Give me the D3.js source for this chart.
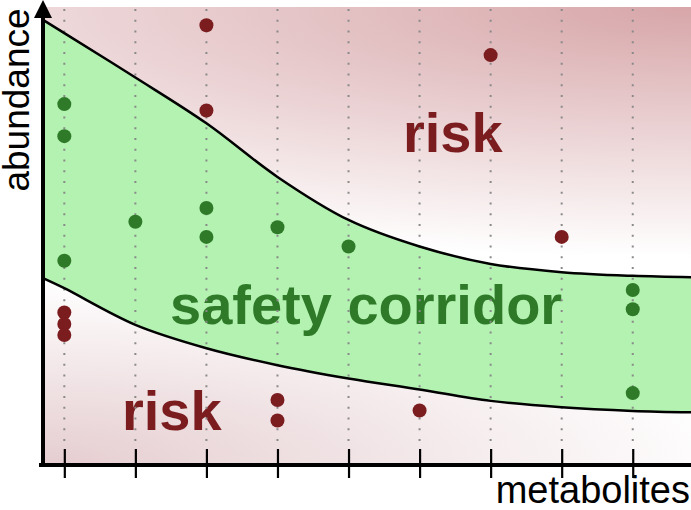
<!DOCTYPE html>
<html><head><meta charset="utf-8">
<script src="https://cdn.jsdelivr.net/npm/d3@7"></script>
<style>body{margin:0;background:#fff} svg{display:block}</style>
</head><body><svg id="c" width="691" height="510"></svg>
<script>
// ---- data ----
const metabolites = [1, 2, 3, 4, 5, 6, 7, 8, 9];
const tickLabels = ["", "", "", "", "", "", "", "", ""];
const corridorX     = [0.7, 1, 2, 3, 4, 5, 6, 7, 8, 9, 9.82];
const corridorUpper = [97.2, 94.3, 84.6, 74.6, 62.9, 53.5, 47.7, 43.9, 42.1, 41.3, 41.0];
const corridorLower = [40.8, 38.6, 30.6, 25.5, 21.8, 18.9, 16.5, 14.0, 12.6, 11.8, 11.5];
const safeX = [1, 1, 1, 2, 3, 3, 4, 5, 9, 9, 9];
const safeY = [78.8, 71.8, 44.6, 53.1, 56.1, 49.8, 51.9, 47.7, 38.2, 34.0, 15.7];
const riskX = [1, 1, 1, 3, 3, 4, 4, 6, 7, 8];
const riskY = [33.3, 30.8, 28.4, 96.0, 77.4, 14.2, 9.7, 11.9, 89.5, 49.8];

// ---- chart ----
const svg = d3.select("#c");
const x = d3.scaleLinear().domain([0.7, 9.82]).range([43, 691]);
const y = d3.scaleLinear().domain([0, 100]).range([465, 7]);

const defs = svg.append("defs");
const gTop = defs.append("radialGradient").attr("id", "gTop")
  .attr("gradientUnits", "userSpaceOnUse").attr("cx", 0).attr("cy", 0).attr("r", 1)
  .attr("gradientTransform", "translate(691,7) scale(1150,250)");
gTop.append("stop").attr("offset", 0).attr("stop-color", "#d7a6a9");
gTop.append("stop").attr("offset", 1).attr("stop-color", "#ffffff");
const gBot = defs.append("radialGradient").attr("id", "gBot")
  .attr("gradientUnits", "userSpaceOnUse").attr("cx", 0).attr("cy", 0).attr("r", 1)
  .attr("gradientTransform", "translate(43,465) scale(700,185)");
gBot.append("stop").attr("offset", 0).attr("stop-color", "#e5cdd0");
gBot.append("stop").attr("offset", 1).attr("stop-color", "#ffffff");

const pts = corridorX.map((d, i) => ({x: d, up: corridorUpper[i], lo: corridorLower[i]}));
const curve = d3.curveCatmullRom.alpha(0.5);

svg.append("path").datum(pts)
  .attr("d", d3.area().curve(curve).x(d => x(d.x)).y0(y(100)).y1(d => y(d.up)))
  .attr("fill", "url(#gTop)");
svg.append("path").datum(pts)
  .attr("d", d3.area().curve(curve).x(d => x(d.x)).y0(d => y(d.lo)).y1(y(0)))
  .attr("fill", "url(#gBot)");
svg.append("path").datum(pts)
  .attr("d", d3.area().curve(curve).x(d => x(d.x)).y0(d => y(d.lo)).y1(d => y(d.up)))
  .attr("fill", "#b3f2b1");

// texts
const ff = "Liberation Sans, Arial, sans-serif";
svg.append("text").attr("x", 403).attr("y", 152).text("risk")
  .attr("font-family", ff).attr("font-weight", "bold")
  .attr("font-size", 56).attr("fill", "#7b1c1f");
svg.append("text").attr("x", 122).attr("y", 430).text("risk")
  .attr("font-family", ff).attr("font-weight", "bold")
  .attr("font-size", 56).attr("fill", "#7b1c1f");
svg.append("text").attr("x", 170).attr("y", 324).text("safety corridor")
  .attr("font-family", ff).attr("font-weight", "bold")
  .attr("font-size", 56).attr("fill", "#2e7a28");

// dotted guide lines
svg.append("g").selectAll("line").data(metabolites).join("line")
  .attr("x1", d => x(d)).attr("x2", d => x(d))
  .attr("y1", 9).attr("y2", 441)
  .attr("stroke", "#8a8a8a").attr("stroke-width", 2)
  .attr("stroke-dasharray", "2,8.75");

// corridor boundaries
const line = (k) => d3.line().curve(curve).x(d => x(d.x)).y(d => y(d[k]));
svg.append("path").datum(pts).attr("d", line("up")).attr("fill", "none")
  .attr("stroke", "#000").attr("stroke-width", 2.5);
svg.append("path").datum(pts).attr("d", line("lo")).attr("fill", "none")
  .attr("stroke", "#000").attr("stroke-width", 2.5);

// axes
const xAxis = d3.axisBottom(x).tickValues(metabolites).tickSize(29)
  .tickFormat((d, i) => tickLabels[i]);
const gx = svg.append("g").attr("transform", "translate(0,449)").call(xAxis);
gx.select(".domain").remove();
gx.selectAll(".tick line").attr("stroke", "#000").attr("stroke-width", 2.2);
svg.append("line").attr("x1", 39).attr("x2", 691).attr("y1", 465).attr("y2", 465)
  .attr("stroke", "#000").attr("stroke-width", 4);
svg.append("line").attr("x1", 43).attr("x2", 43).attr("y1", 14).attr("y2", 467)
  .attr("stroke", "#000").attr("stroke-width", 4);
svg.append("path").attr("d", "M43,0 L52,18 L34,18 Z").attr("fill", "#000");

// axis titles
svg.append("text").attr("transform", "translate(29,100) rotate(-90)")
  .attr("text-anchor", "middle").text("abundance")
  .attr("font-family", ff).attr("font-size", 37).attr("fill", "#000");
svg.append("text").attr("x", 690).attr("y", 503).attr("text-anchor", "end").text("metabolites")
  .attr("font-family", ff).attr("font-size", 38).attr("fill", "#000");

// points
svg.append("g").selectAll("circle").data(safeX.map((d, i) => [d, safeY[i]])).join("circle")
  .attr("cx", d => x(d[0])).attr("cy", d => y(d[1])).attr("r", 7).attr("fill", "#2e7a28");
svg.append("g").selectAll("circle").data(riskX.map((d, i) => [d, riskY[i]])).join("circle")
  .attr("cx", d => x(d[0])).attr("cy", d => y(d[1])).attr("r", 7).attr("fill", "#7b1c1f");
</script></body></html>
